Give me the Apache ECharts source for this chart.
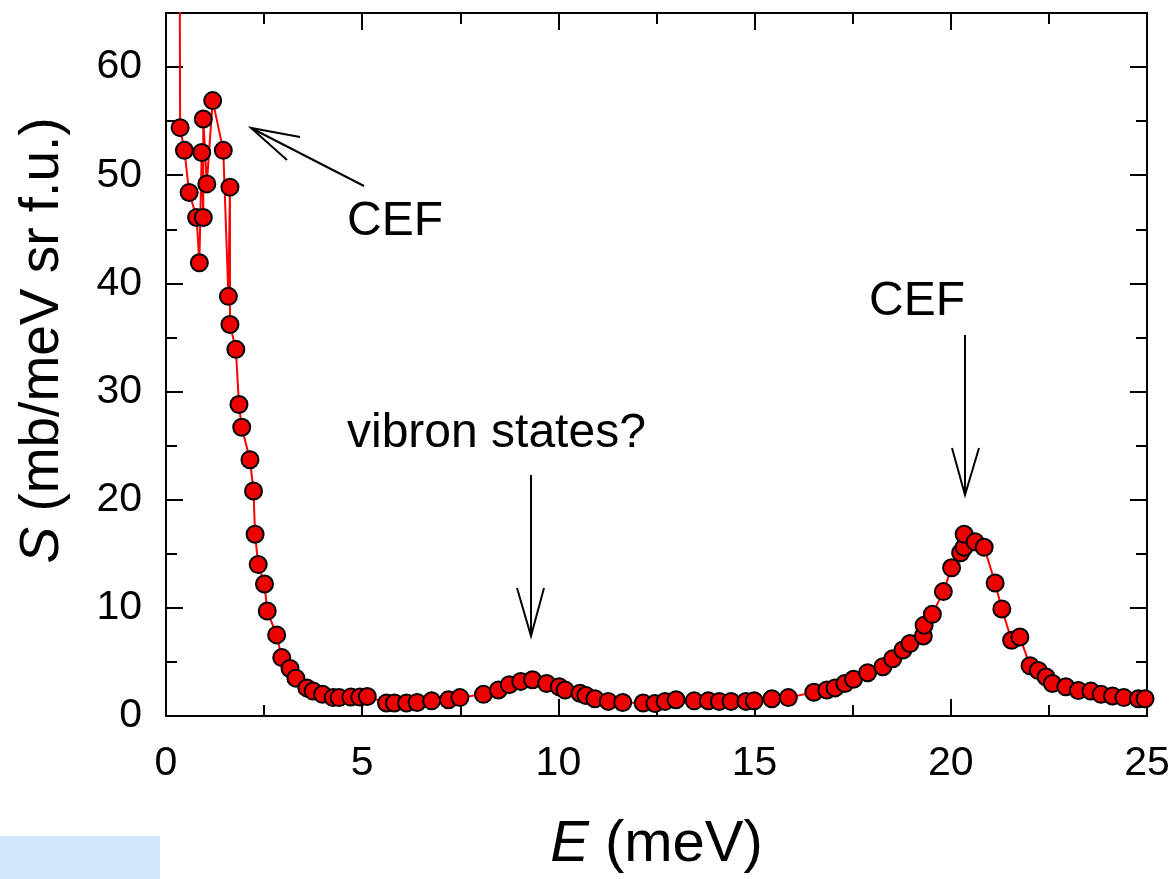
<!DOCTYPE html>
<html>
<head>
<meta charset="utf-8">
<script src="https://cdn.jsdelivr.net/npm/echarts@6/dist/echarts.min.js"></script>
<style>
  html, body { margin: 0; padding: 0; background: #fff; }
  #chart { width: 1173px; height: 879px; }
</style>
</head>
<body>
<div id="chart"></div>
<script>
// energy transfer (meV) and S values
var energy = [
  0.33, 0.36, 0.47, 0.59, 0.78, 0.85, 0.91, 0.95, 0.95, 1.04,
  1.19, 1.46, 1.59, 1.63, 1.63, 1.78, 1.86, 1.93, 2.14, 2.23,
  2.27, 2.35, 2.51, 2.58, 2.82, 2.95, 3.16, 3.31, 3.59, 3.75,
  3.99, 4.26, 4.41, 4.71, 4.94, 5.13, 5.62, 5.82, 6.13, 6.40,
  6.77, 7.20, 7.49, 8.09, 8.47, 8.75, 9.04, 9.34, 9.70, 10.02,
  10.17, 10.55, 10.70, 10.93, 11.27, 11.64, 12.16, 12.46, 12.72, 13.00,
  13.46, 13.82, 14.10, 14.40, 14.78, 14.99, 15.44, 15.86, 16.51, 16.84,
  17.05, 17.30, 17.52, 17.88, 18.27, 18.52, 18.78, 18.96, 19.30, 19.32,
  19.53, 19.81, 20.02, 20.25, 20.34, 20.34, 20.62, 20.85, 21.13, 21.30,
  21.55, 21.76, 22.02, 22.23, 22.43, 22.59, 22.93, 23.25, 23.57, 23.83,
  24.12, 24.41, 24.78, 24.95
];
var intensity = [
  95, 54.4, 52.3, 48.4, 46.1, 41.9, 52.1, 46.1, 55.2, 49.2,
  56.9, 52.3, 38.8, 48.9, 36.2, 33.9, 28.8, 26.7, 23.7, 20.8,
  16.8, 14.0, 12.2, 9.7, 7.5, 5.4, 4.4, 3.5, 2.6, 2.3,
  2.0, 1.7, 1.7, 1.75, 1.75, 1.8, 1.2, 1.2, 1.2, 1.25,
  1.4, 1.5, 1.7, 2.0, 2.4, 2.9, 3.2, 3.35, 3.0, 2.7,
  2.4, 2.1, 1.9, 1.6, 1.35, 1.25, 1.2, 1.15, 1.35, 1.5,
  1.4, 1.4, 1.35, 1.35, 1.35, 1.4, 1.6, 1.7, 2.2, 2.4,
  2.6, 3.0, 3.4, 4.0, 4.55, 5.3, 6.1, 6.7, 7.4, 8.4,
  9.4, 11.5, 13.7, 15.1, 15.6, 16.8, 16.1, 15.6, 12.3, 9.9,
  7.0, 7.3, 4.65, 4.2, 3.6, 3.0, 2.7, 2.35, 2.3, 2.0,
  1.85, 1.7, 1.6, 1.6
];
var xTicks = { min: 0, max: 25, step: 5 };
var yTicks = { min: 0, max: 65, step: 10 };

var points = energy.map(function (e, i) { return [e, intensity[i]]; });

var FONT = 'Liberation Sans, Arial, sans-serif';
var axisLine = { show: true, onZero: false, lineStyle: { color: '#000', width: 2 } };

function xAx(pos, labels) {
  return {
    type: 'value', position: pos, min: xTicks.min, max: xTicks.max, interval: xTicks.step,
    axisLine: axisLine,
    axisTick: { inside: true, length: 17, lineStyle: { color: '#000', width: 2 } },
    minorTick: { show: true, splitNumber: 2, length: 11, lineStyle: { color: '#000', width: 2 } },
    axisLabel: { show: labels, margin: 27, color: '#000', fontSize: 41, fontFamily: FONT },
    splitLine: { show: false },
    name: labels ? '{i|E} (meV)' : '',
    nameLocation: 'middle', nameGap: 100,
    nameTextStyle: {
      color: '#000', fontSize: 58, fontFamily: FONT,
      rich: { i: { fontStyle: 'italic', fontSize: 58, fontFamily: FONT, color: '#000' } }
    }
  };
}
function yAx(pos, step, tickLen, labels) {
  return {
    type: 'value', position: pos, min: yTicks.min, max: yTicks.max, interval: step,
    axisLine: axisLine,
    axisTick: { inside: true, length: tickLen, lineStyle: { color: '#000', width: 2 } },
    axisLabel: { show: labels, showMaxLabel: false, margin: 24, color: '#000', fontSize: 41, fontFamily: FONT },
    splitLine: { show: false },
    name: labels ? '{i|S} (mb/meV sr f.u.)' : '',
    nameLocation: 'middle', nameGap: 96, nameRotate: 90,
    nameTextStyle: {
      color: '#000', fontSize: 55, fontFamily: FONT, padding: [0, 0, 0, 48],
      rich: { i: { fontStyle: 'italic', fontSize: 55, fontFamily: FONT, color: '#000' } }
    }
  };
}

var arrowStyle = { stroke: '#000', lineWidth: 2, fill: null };

var chart = echarts.init(document.getElementById('chart'));
chart.setOption({
  animation: false,
  backgroundColor: '#fff',
  grid: { left: 166, right: 26, top: 13, bottom: 161 },
  xAxis: [xAx('bottom', true), xAx('top', false)],
  yAxis: [
    yAx('left', yTicks.step, 17, true),
    yAx('right', yTicks.step, 17, false),
    yAx('left', yTicks.step / 2, 11, false),
    yAx('right', yTicks.step / 2, 11, false)
  ],
  series: [{
    type: 'line',
    data: points,
    xAxisIndex: 0,
    yAxisIndex: 0,
    clip: true,
    symbol: 'circle',
    symbolSize: 17,
    lineStyle: { color: '#ff0000', width: 2 },
    itemStyle: { color: '#ee0000', borderColor: '#000', borderWidth: 2 }
  }],
  graphic: [
    { type: 'rect', shape: { x: 0, y: 836, width: 160, height: 43 }, style: { fill: '#d0e6fa' } },
    { type: 'text', left: 347, top: 198, style: { text: 'CEF', font: '48px ' + FONT, fill: '#000' } },
    { type: 'text', left: 347, top: 410, style: { text: 'vibron states?', font: '48px ' + FONT, fill: '#000' } },
    { type: 'text', left: 869, top: 278, style: { text: 'CEF', font: '48px ' + FONT, fill: '#000' } },
    { type: 'polyline', shape: { points: [[364, 186], [251, 128]] }, style: arrowStyle },
    { type: 'polyline', shape: { points: [[300, 137], [251, 128], [287, 160]] }, style: arrowStyle },
    { type: 'polyline', shape: { points: [[531, 475], [531, 636]] }, style: arrowStyle },
    { type: 'polyline', shape: { points: [[517, 588], [531, 636], [544, 588]] }, style: arrowStyle },
    { type: 'polyline', shape: { points: [[965, 335], [965, 495]] }, style: arrowStyle },
    { type: 'polyline', shape: { points: [[952, 448], [965, 495], [979, 448]] }, style: arrowStyle }
  ]
});
</script>
</body>
</html>
